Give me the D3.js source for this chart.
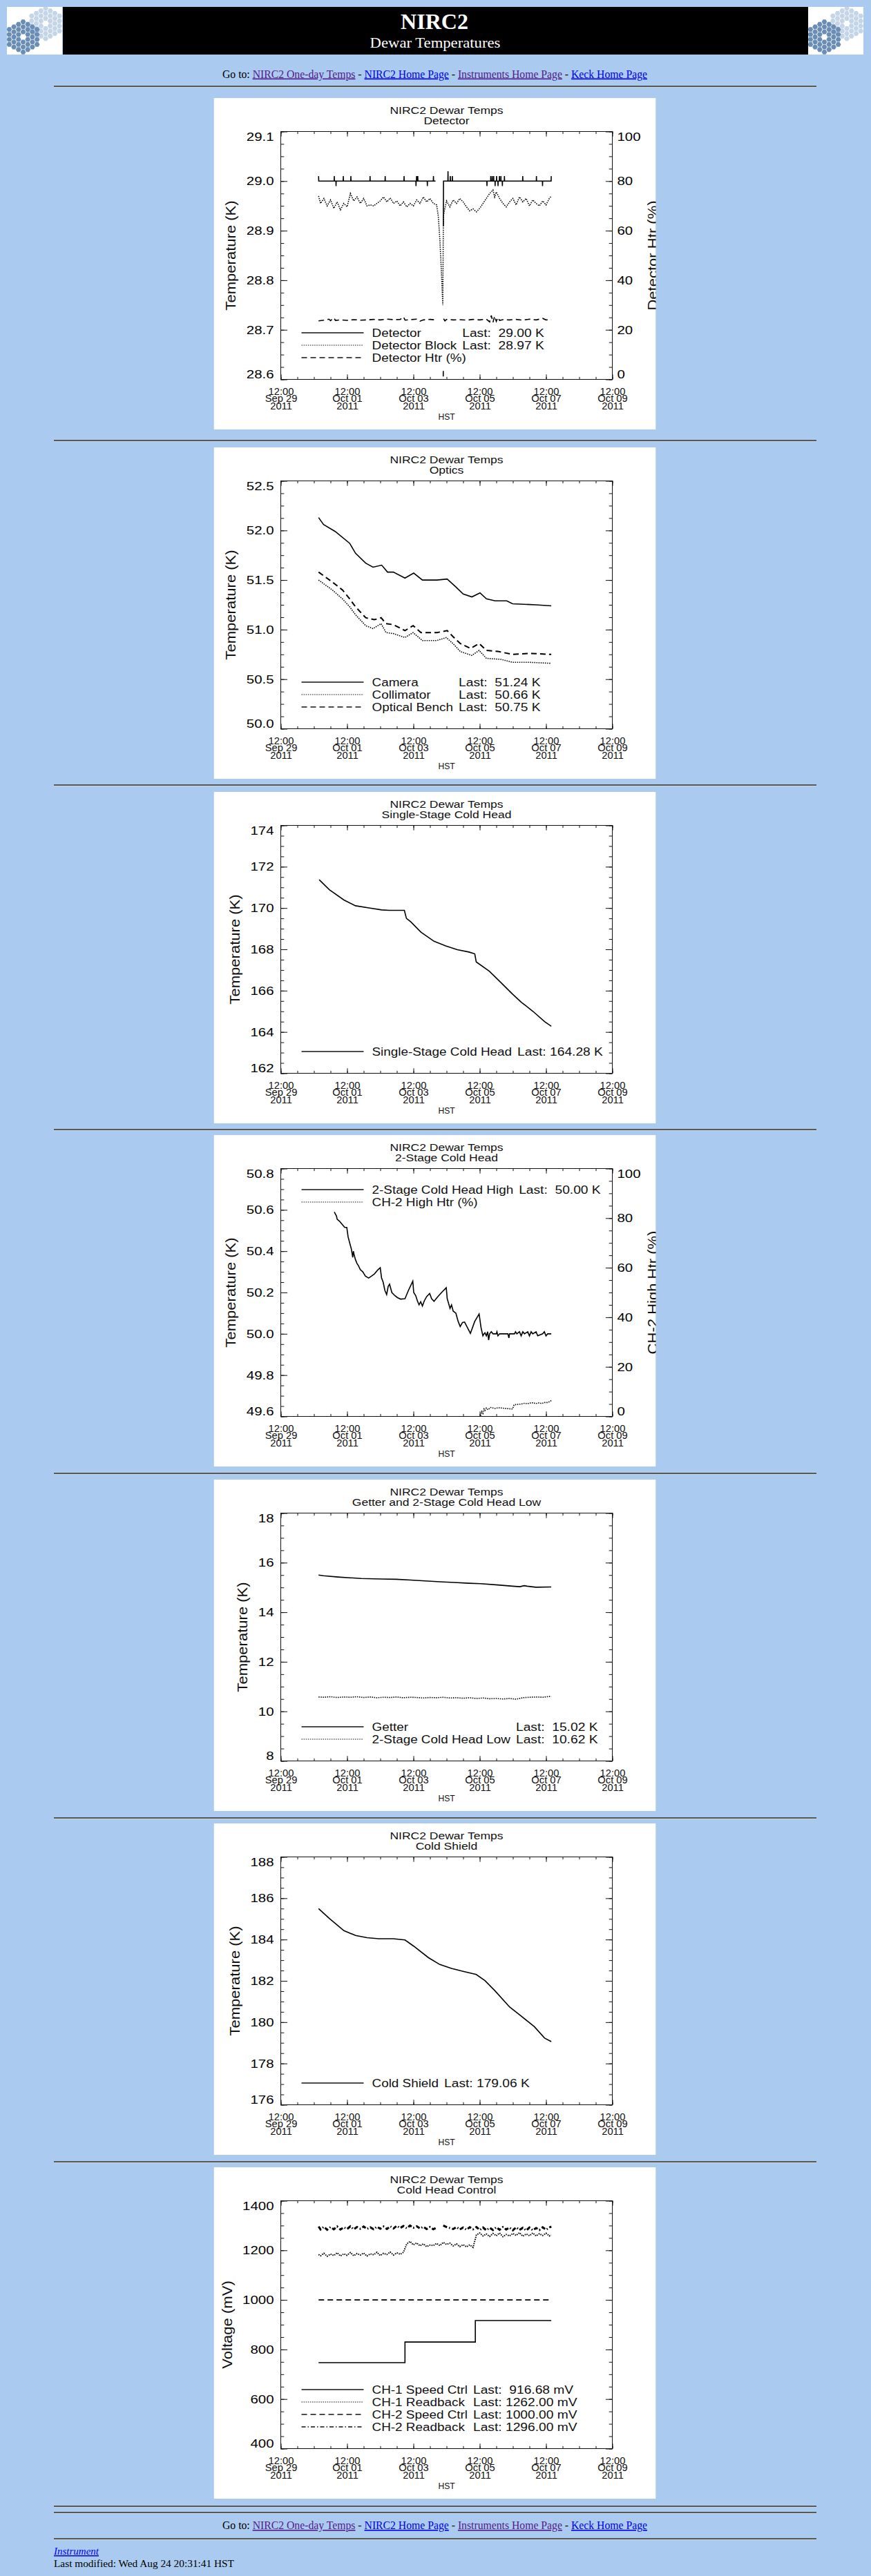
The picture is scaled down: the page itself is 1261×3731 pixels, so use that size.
<!DOCTYPE html>
<html>
<head>
<meta charset="utf-8">
<title>NIRC2 Dewar Temperatures</title>
<script src="https://cdn.jsdelivr.net/npm/d3@7"></script>
<style>
body { margin: 0; background: #aacbef; overflow: hidden; }
svg text { white-space: pre; }
</style>
</head>
<body>
<script>
// time axis: days after 12:00 Sep 29 2011 (HST)
var T0 = Date.UTC(2011, 8, 29, 12);
function day(d) { return new Date(T0 + d * 864e5); }
var xMajorDays = [0, 2, 4, 6, 8, 10];

// ---------- Detector ----------
var detTicks = [28.6, 28.7, 28.8, 28.9, 29.0, 29.1];
var htrTicks = [0, 20, 40, 60, 80, 100];
var detector = [[1.14,29.01],[1.145,29.0],[1.61,29.0],[1.614,29.01],[1.618,29.0],[1.663,29.0],[1.667,28.99],[1.671,29.0],
  [1.882,29.0],[1.886,29.01],[1.89,29.0],[2.11,29.0],[2.114,29.01],[2.118,29.0],[2.689,29.0],[2.693,29.01],[2.697,29.0],
  [3.145,29.0],[3.149,29.01],[3.153,29.0],[3.715,29.0],[3.719,29.01],[3.723,29.0],[4.075,29.0],[4.079,28.99],[4.083,29.0],
  [4.092,29.0],[4.096,29.01],[4.1,29.0],[4.128,29.0],[4.132,29.01],[4.136,29.0],[4.417,29.0],[4.421,28.99],[4.425,29.0],
  [4.601,29.0],[4.605,29.01],[4.609,29.0],[4.667,29.0],[4.78,null],[4.904,28.91],[4.908,29.0],[5.04,29.0],[5.044,29.02],
  [5.048,29.0],[5.11,29.0],[5.114,29.01],[5.118,29.0],[5.171,29.0],[5.175,29.01],[5.179,29.0],[6.215,29.0],[6.219,28.99],
  [6.223,29.0],[6.329,29.0],[6.333,29.01],[6.337,29.0],[6.373,29.0],[6.377,29.01],[6.381,29.0],[6.417,29.0],[6.421,29.01],
  [6.425,29.0],[6.461,29.0],[6.465,28.99],[6.469,29.0],[6.505,29.0],[6.509,29.01],[6.513,29.0],[6.549,29.0],[6.553,28.99],
  [6.557,29.0],[6.592,29.0],[6.596,29.01],[6.6,29.0],[6.636,29.0],[6.64,29.01],[6.644,29.0],[6.68,29.0],[6.684,28.99],
  [6.688,29.0],[6.742,29.0],[6.746,29.01],[6.75,29.0],[7.294,29.0],[7.298,29.01],[7.302,29.0],[7.707,29.0],[7.711,29.01],
  [7.715,29.0],[7.891,29.0],[7.895,28.99],[7.899,29.0],[8.154,29.0],[8.158,29.01]];
var detBlock = [[1.14,28.97],[1.2,28.955],[1.3,28.965],[1.4,28.95],[1.5,28.962],[1.6,28.945],[1.7,28.958],[1.8,28.942],
  [1.9,28.955],[2.0,28.948],[2.1,28.975],[2.2,28.96],[2.3,28.968],[2.4,28.955],[2.5,28.965],[2.6,28.95],[2.7,28.952],
  [2.8,28.95],[2.9,28.955],[3.0,28.96],[3.1,28.968],[3.2,28.958],[3.3,28.966],[3.4,28.955],[3.5,28.96],[3.6,28.95],
  [3.7,28.958],[3.8,28.948],[3.9,28.955],[4.0,28.95],[4.1,28.962],[4.2,28.955],[4.3,28.968],[4.4,28.958],[4.5,28.965],
  [4.6,28.955],[4.7,28.952],[4.75,28.93],[4.8,28.88],[4.85,28.81],[4.886,28.75],[4.905,28.93],[4.95,28.945],[5.0,28.96],
  [5.1,28.948],[5.2,28.962],[5.3,28.955],[5.4,28.965],[5.5,28.958],[5.6,28.948],[5.7,28.94],[5.8,28.944],[5.9,28.938],
  [6.0,28.945],[6.1,28.955],[6.2,28.965],[6.3,28.975],[6.4,28.982],[6.45,28.968],[6.5,28.978],[6.6,28.965],[6.7,28.955],
  [6.8,28.948],[6.9,28.958],[7.0,28.965],[7.1,28.952],[7.2,28.968],[7.3,28.958],[7.4,28.965],[7.5,28.95],[7.6,28.962],
  [7.7,28.955],[7.8,28.95],[7.9,28.96],[8.0,28.952],[8.1,28.965],[8.158,28.97]];
var detHtr = [[1.14,23.6],[1.3,23.9],[1.45,24.3],[1.5,23.7],[1.6,24.8],[1.65,23.8],[1.8,24.0],[2.0,23.8],[2.2,24.1],
  [2.4,23.9],[2.6,24.0],[2.8,24.2],[3.0,24.0],[3.2,24.3],[3.4,24.1],[3.6,24.2],[3.7,25.2],[3.75,23.9],[3.9,24.1],
  [4.1,24.3],[4.2,23.5],[4.3,24.0],[4.5,24.2],[4.667,24.0],[4.78,null],[4.9,1.2],[4.902,4.5],[4.906,null],[4.91,24.5],
  [4.95,23.6],[5.0,24.2],[5.2,24.0],[5.4,24.1],[5.6,23.9],[5.8,24.2],[6.0,24.0],[6.2,24.3],[6.3,23.2],[6.35,25.8],
  [6.4,23.0],[6.45,25.5],[6.5,23.4],[6.55,25.0],[6.6,23.8],[6.7,24.1],[6.9,24.0],[7.1,24.2],[7.3,23.9],[7.5,24.3],
  [7.7,24.0],[7.9,24.6],[8.0,24.0],[8.158,24.1]];

// ---------- Optics ----------
var opticsTicks = [50.0, 50.5, 51.0, 51.5, 52.0, 52.5];
var camera = [[1.14,52.13],[1.289,52.06],[1.64,51.99],[2.079,51.87],[2.254,51.77],[2.561,51.67],[2.781,51.63],
  [3.044,51.65],[3.219,51.58],[3.395,51.58],[3.746,51.52],[4.009,51.57],[4.272,51.50],[4.711,51.50],[5.018,51.51],
  [5.281,51.43],[5.5,51.36],[5.763,51.33],[6.009,51.37],[6.202,51.31],[6.465,51.29],[6.816,51.29],[6.991,51.26],
  [7.693,51.25],[8.158,51.24]];
var collimator = [[1.14,51.50],[1.553,51.40],[1.86,51.31],[2.079,51.23],[2.254,51.15],[2.561,51.04],[2.781,51.01],
  [3.026,51.06],[3.175,50.97],[3.395,50.96],[3.746,50.92],[3.991,50.97],[4.272,50.89],[4.711,50.89],[4.991,50.92],
  [5.193,50.86],[5.412,50.78],[5.763,50.74],[5.982,50.79],[6.202,50.71],[6.64,50.70],[6.991,50.67],[7.518,50.67],
  [8.158,50.66]];
var bench = [[1.14,51.58],[1.553,51.48],[1.86,51.40],[2.079,51.31],[2.254,51.23],[2.561,51.12],[2.825,51.10],
  [3.026,51.12],[3.175,51.06],[3.395,51.05],[3.746,50.99],[3.991,51.04],[4.228,50.97],[4.711,50.97],[5.018,50.99],
  [5.193,50.93],[5.412,50.86],[5.719,50.81],[5.982,50.86],[6.202,50.79],[6.553,50.78],[6.991,50.75],[7.518,50.76],
  [8.158,50.75]];

// ---------- Single-Stage Cold Head ----------
var ssTicks = [162, 164, 166, 168, 170, 172, 174];
var singleStage = [[1.158,171.37],[1.465,170.89],[1.904,170.39],[2.254,170.11],[2.693,170.0],[3.044,169.91],
  [3.263,169.89],[3.728,169.89],[3.789,169.5],[3.921,169.33],[4.228,168.83],[4.623,168.39],[4.974,168.17],
  [5.325,167.98],[5.675,167.87],[5.851,167.78],[5.895,167.39],[6.289,166.94],[6.64,166.39],[6.991,165.83],
  [7.254,165.44],[7.605,165.0],[7.956,164.5],[8.158,164.28]];

// ---------- 2-Stage Cold Head ----------
var tsTicks = [49.6, 49.8, 50.0, 50.2, 50.4, 50.6, 50.8];
var chHigh = [[1.614,50.59],[1.68,50.57],[1.7,50.555],[1.772,50.545],[1.85,50.53],[1.93,50.515],[1.991,50.515],
  [2.03,50.47],[2.079,50.44],[2.13,50.41],[2.17,50.37],[2.19,50.40],[2.211,50.384],[2.25,50.36],[2.3,50.34],
  [2.342,50.33],[2.4,50.31],[2.474,50.30],[2.55,50.28],[2.649,50.27],[2.74,50.28],[2.825,50.29],[2.93,50.31],
  [3.0,50.32],[3.04,50.27],[3.088,50.25],[3.14,50.21],[3.193,50.19],[3.24,50.23],[3.281,50.24],[3.35,50.2],
  [3.439,50.185],[3.52,50.175],[3.614,50.168],[3.746,50.17],[3.85,50.21],[3.982,50.255],[4.01,50.2],[4.07,50.185],
  [4.12,50.16],[4.17,50.14],[4.22,50.155],[4.272,50.135],[4.33,50.16],[4.4,50.18],[4.491,50.195],[4.55,50.17],
  [4.623,50.157],[4.711,50.175],[4.85,50.2],[4.991,50.223],[5.02,50.17],[5.105,50.123],[5.15,50.14],[5.2,50.11],
  [5.281,50.1],[5.35,50.06],[5.412,50.035],[5.48,50.055],[5.544,50.057],[5.63,50.03],[5.719,50.002],[5.85,50.06],
  [5.982,50.096],[6.04,50.03],[6.096,49.99],[6.13,50.0],[6.158,50.005],[6.2,49.99],[6.24,50.01],[6.27,49.97],
  [6.3,50.0],[6.35,50.01],[6.4,50.0],[6.5,50.0],[6.52,50.01],[6.55,49.99],[6.6,50.0],[6.85,50.0],[6.88,49.98],
  [6.9,50.0],[7.05,50.0],[7.08,50.01],[7.12,50.0],[7.2,50.01],[7.25,49.99],[7.3,50.01],[7.35,50.0],[7.45,50.01],
  [7.5,49.99],[7.55,50.01],[7.6,50.0],[7.7,50.01],[7.75,49.99],[7.9,50.0],[7.95,50.01],[8.0,49.99],[8.05,50.0],
  [8.158,50.0]];
var ch2Htr = [[6.026,0.3],[6.06,2.0],[6.096,1.2],[6.13,3.0],[6.158,2.4],[6.2,3.4],[6.246,2.7],[6.333,3.6],[6.4,3.4],
  [6.465,3.2],[6.55,3.5],[6.64,3.4],[6.8,3.2],[6.991,3.0],[7.035,4.6],[7.1,4.8],[7.254,5.0],[7.35,5.3],[7.43,5.1],
  [7.5,5.4],[7.605,5.5],[7.7,5.2],[7.8,5.5],[7.868,5.2],[7.95,5.6],[8.044,5.6],[8.1,5.9],[8.158,6.4]];

// ---------- Getter and 2-Stage Cold Head Low ----------
var getterTicks = [8, 10, 12, 14, 16, 18];
var getter = [[1.14,15.5],[1.289,15.47],[1.728,15.42],[2.43,15.36],[3.044,15.34],[3.482,15.33],[3.921,15.30],
  [4.272,15.27],[4.798,15.23],[5.237,15.20],[5.675,15.17],[6.026,15.15],[6.553,15.10],[6.991,15.05],[7.211,15.03],
  [7.342,15.07],[7.43,15.05],[7.693,15.01],[8.158,15.02]];
var chLow = [[1.14,10.58],[1.3,10.57],[1.5,10.59],[1.7,10.56],[1.9,10.58],[2.1,10.57],[2.3,10.59],[2.5,10.56],
  [2.7,10.58],[2.9,10.55],[3.1,10.57],[3.3,10.56],[3.5,10.58],[3.7,10.55],[3.9,10.57],[4.1,10.56],[4.3,10.54],
  [4.5,10.56],[4.7,10.55],[4.9,10.57],[5.1,10.54],[5.3,10.55],[5.5,10.53],[5.7,10.55],[5.9,10.52],[6.1,10.54],
  [6.3,10.51],[6.5,10.52],[6.7,10.5],[6.9,10.52],[7.1,10.49],[7.3,10.55],[7.5,10.57],[7.7,10.58],[7.9,10.57],
  [8.1,10.6],[8.158,10.6]];

// ---------- Cold Shield ----------
var shieldTicks = [176, 178, 180, 182, 184, 186, 188];
var coldShield = [[1.14,185.5],[1.465,185.02],[1.904,184.43],[2.254,184.2],[2.605,184.09],[2.956,184.04],
  [3.395,184.04],[3.746,183.98],[4.009,183.68],[4.456,183.12],[4.798,182.79],[5.149,182.6],[5.5,182.46],
  [5.895,182.31],[6.158,182.01],[6.465,181.51],[6.904,180.73],[7.254,180.29],[7.649,179.78],[7.956,179.23],
  [8.158,179.06]];

// ---------- Cold Head Control ----------
var voltTicks = [400, 600, 800, 1000, 1200, 1400];
var ctrlTime = [1.14,1.2,1.3,1.4,1.5,1.6,1.7,1.8,1.9,2.0,2.1,2.2,2.3,2.4,2.5,2.6,2.7,2.8,2.9,3.0,3.1,3.2,3.3,3.4,3.5,
  3.6,3.7,3.8,3.9,4.0,4.1,4.2,4.3,4.4,4.5,4.6,4.7,4.8,4.9,5.0,5.1,5.2,5.3,5.4,5.5,5.6,5.7,5.8,5.9,6.0,6.1,6.2,6.3,
  6.4,6.5,6.6,6.7,6.8,6.9,7.0,7.1,7.2,7.3,7.4,7.5,7.6,7.7,7.8,7.9,8.0,8.1,8.16];
var ch1Readback = [1183,1178,1188,1176,1185,1179,1190,1177,1186,1180,1191,1178,1187,1181,1189,1177,1186,1182,1192,
  1179,1188,1183,1193,1181,1190,1184,1192,1226,1236,1222,1230,1218,1226,1215,1221,1219,1228,1219,1232,1224,1229,
  1218,1226,1215,1223,1214,1222,1212,1262,1270,1258,1266,1256,1268,1259,1270,1255,1264,1258,1268,1260,1271,1257,
  1266,1259,1270,1258,1267,1260,1269,1258,1262];
var ch2Readback = [1296,1284,1295,1283,1294,1285,1296,1284,1293,1286,1297,1285,1294,1287,1296,1286,1293,1285,1295,
  1287,1296,1286,1297,1288,1299,1290,1298,1289,1300,1291,1297,1288,1295,1286,1294,1285,1292,null,1300,1294,1290,
  1286,1294,1284,1292,1283,1293,1285,1294,1282,1292,1281,1291,1282,1293,1283,1294,1284,1292,1281,1293,1282,1291,
  1280,1292,1281,1290,1282,1293,1283,1292,1296];
var ch1Speed = [[1.14,747],[3.746,830],[5.868,916.68],[8.158,916.68]];
var ch2Speed = [[1.14,1000],[8.158,1000]];

// ---------- page layout ----------
var W = 1261, H = 3731;
var SANS = "'Liberation Sans', Arial, sans-serif";
var SERIF = "'Liberation Serif', 'Times New Roman', serif";
var PX = 309.5, PW = 640, PH = 480;
var M = { l: 97, t: 48.5 }, IW = 480, IH = 359;
var panelTops = [142, 648, 1147, 1644, 2143, 2641, 3139];
var hrYs = [124, 637, 1136, 1635, 2133, 2632, 3130, 3629, 3638, 3676];
var DASH = { solid: null, dotted: "1.5,1.6", dashed: "8,5", dashdot: "6,3,1.5,3" };

var svg = d3.select("body").append("svg")
  .attr("width", W).attr("height", H);

// stretch text horizontally to imitate the wide plot font
function fit(sel, k) {
  sel.each(function () {
    var n = this.getComputedTextLength();
    if (n > 0) d3.select(this).attr("textLength", n * k).attr("lengthAdjust", "spacingAndGlyphs");
  });
}

// ---- header banner ----
function logo(x0) {
  var lg = svg.append("g").attr("transform", "translate(" + x0 + ",10)");
  var cid = "logo" + x0;
  lg.append("clipPath").attr("id", cid).append("rect").attr("width", 80).attr("height", 69);
  var c = lg.append("g").attr("clip-path", "url(#" + cid + ")");
  c.append("rect").attr("width", 80).attr("height", 69).attr("fill", "#fff");
  var cells = [];
  for (var q = -3; q <= 3; q++) for (var r = -3; r <= 3; r++) {
    var k = Math.max(Math.abs(q), Math.abs(r), Math.abs(q + r));
    if (k >= 1 && k <= 3) cells.push([q, r]);
  }
  var hex = d3.range(6).map(function (i) { var a = Math.PI / 3 * i; return [3.9 * Math.cos(a), 3.9 * Math.sin(a)]; });
  [[56, 24, "#c4d5e7"], [23.5, 43.5, "#6a8db5"]].forEach(function (cl) {
    c.append("g").attr("transform", "translate(" + cl[0] + "," + cl[1] + ")")
      .selectAll("path").data(cells).enter().append("path")
      .attr("transform", function (d) { return "translate(" + (6.7 * d[0]) + "," + (7.3 * (d[1] + d[0] / 2)) + ")"; })
      .attr("d", "M" + hex.join("L") + "Z")
      .attr("fill", cl[2]);
  });
}
logo(10);
svg.append("rect").attr("x", 91).attr("y", 10).attr("width", 1079).attr("height", 69).attr("fill", "#000");
logo(1170);
svg.append("text").attr("x", 629).attr("y", 42).attr("text-anchor", "middle")
  .attr("font-family", SERIF).attr("font-weight", "bold").attr("font-size", 32).attr("fill", "#fff")
  .text("NIRC2");
svg.append("text").attr("x", 630).attr("y", 69).attr("text-anchor", "middle")
  .attr("font-family", SERIF).attr("font-size", 21).attr("fill", "#fff")
  .text("Dewar Temperatures").call(fit, 1.08);

// ---- "Go to" link lines ----
var gotoParts = [["Go to: ", "#000"], ["NIRC2 One-day Temps", "#551a8b"], [" - ", "#000"], ["NIRC2 Home Page", "#0000ee"],
  [" - ", "#000"], ["Instruments Home Page", "#551a8b"], [" - ", "#000"], ["Keck Home Page", "#0000ee"]];
function gotoLine(yb) {
  var t = svg.append("text").attr("x", 322).attr("y", yb)
    .attr("font-family", SERIF).attr("font-size", 16);
  t.selectAll("tspan").data(gotoParts).enter().append("tspan")
    .attr("fill", function (d) { return d[1]; })
    .style("text-decoration", function (d) { return d[1] === "#000" ? null : "underline"; })
    .text(function (d) { return d[0]; });
  t.attr("textLength", 615).attr("lengthAdjust", "spacingAndGlyphs");
}
gotoLine(112.5);
gotoLine(3663);

// ---- horizontal rules ----
hrYs.forEach(function (y) {
  svg.append("rect").attr("x", 78).attr("y", y).attr("width", 1104).attr("height", 2).attr("fill", "#585858");
  svg.append("rect").attr("x", 78).attr("y", y + 2).attr("width", 1104).attr("height", 1).attr("fill", "#c9d6e3");
});

// ---- footer ----
svg.append("text").attr("x", 78).attr("y", 3700).attr("font-family", SERIF).attr("font-style", "italic")
  .attr("font-size", 15).attr("fill", "#0000ee").style("text-decoration", "underline")
  .text("Instrument").call(fit, 1.0);
svg.append("text").attr("x", 78).attr("y", 3718).attr("font-family", SERIF).attr("font-size", 14.5)
  .attr("fill", "#000").text("Last modified: Wed Aug 24 20:31:41 HST")
  .attr("textLength", 261).attr("lengthAdjust", "spacingAndGlyphs");

// ---- one IDL-style plot ----
function drawChart(top, c) {
  var P = svg.append("g").attr("transform", "translate(" + PX + "," + top + ")");
  var cid = "clip" + top;
  P.append("clipPath").attr("id", cid).append("rect").attr("width", PW).attr("height", PH);
  var root = P.append("g").attr("clip-path", "url(#" + cid + ")");
  root.append("rect").attr("width", PW).attr("height", PH).attr("fill", "#fff");

  root.append("text").attr("x", M.l + IW / 2).attr("y", 23).attr("text-anchor", "middle")
    .attr("font-family", SANS).attr("font-size", 14).attr("fill", "#111")
    .text("NIRC2 Dewar Temps").call(fit, 1.25);
  root.append("text").attr("x", M.l + IW / 2).attr("y", 38).attr("text-anchor", "middle")
    .attr("font-family", SANS).attr("font-size", 14).attr("fill", "#111")
    .text(c.subtitle).call(fit, 1.25);

  var g = root.append("g").attr("transform", "translate(" + M.l + "," + M.t + ")");
  var x = d3.scaleUtc().domain([day(0), day(10)]).range([0, IW]);
  var y = d3.scaleLinear().domain(c.yDomain).range([IH, 0]);
  var y2 = c.y2 ? d3.scaleLinear().domain(c.y2.domain).range([IH, 0]) : null;

  var xMajor = xMajorDays.map(day);
  var xMinor = d3.range(0, 10.001, 0.5).map(day);
  function styleAxis(a) {
    a.select(".domain").remove();
    a.attr("font-family", SANS).attr("fill", "#111");
    a.selectAll("line").attr("stroke", "#111");
  }
  // x ticks on bottom and top, pointing inward
  g.append("g").attr("transform", "translate(0," + IH + ")")
    .call(d3.axisBottom(x).tickValues(xMinor).tickSize(-3.6).tickFormat("")).call(styleAxis);
  var bx = g.append("g").attr("transform", "translate(0," + IH + ")")
    .call(d3.axisBottom(x).tickValues(xMajor).tickSize(-7.2).tickFormat(d3.utcFormat("%H:%M"))).call(styleAxis);
  g.append("g").call(d3.axisTop(x).tickValues(xMinor).tickSize(-3.6).tickFormat("")).call(styleAxis);
  g.append("g").call(d3.axisTop(x).tickValues(xMajor).tickSize(-7.2).tickFormat("")).call(styleAxis);
  var fmts = [d3.utcFormat("%H:%M"), d3.utcFormat("%b %d"), d3.utcFormat("%Y")];
  bx.selectAll(".tick text").each(function (d) {
    var t = d3.select(this).text(null).attr("y", null).attr("dy", null)
      .attr("font-size", 14).attr("fill", "#111");
    fmts.forEach(function (f, i) {
      t.append("tspan").attr("x", 0).attr("y", 22.5 + i * 10.3).text(f(d)).call(fit, 1.05);
    });
  });
  g.append("text").attr("x", IW / 2).attr("y", 466 - M.t).attr("text-anchor", "middle")
    .attr("font-family", SANS).attr("font-size", 12.5).attr("fill", "#111").text("HST").call(fit, 0.97);

  // left y axis
  var lo = c.yDomain[0], hi = c.yDomain[1];
  g.append("g").call(d3.axisLeft(y).tickValues(d3.range(lo, hi + 1e-9, c.yMinor)).tickSize(-4.8).tickFormat(""))
    .call(styleAxis);
  var ly = g.append("g").call(d3.axisLeft(y).tickValues(c.yTicks).tickSize(-9.6).tickPadding(10)
    .tickFormat(d3.format(c.yFmt))).call(styleAxis);
  function endNudge(ax) {
    ax.selectAll(".tick text").attr("font-size", 17)
      .attr("dy", function (d, i, n) { return i === 0 ? "-0.09em" : i === n.length - 1 ? "0.76em" : "0.32em"; })
      .call(fit, 1.2);
  }
  endNudge(ly);

  // right axis: own scale or mirrored ticks
  if (y2) {
    g.append("g").attr("transform", "translate(" + IW + ",0)")
      .call(d3.axisRight(y2).tickValues(d3.range(0, 100.001, 5)).tickSize(-4.8).tickFormat("")).call(styleAxis);
    var ry = g.append("g").attr("transform", "translate(" + IW + ",0)")
      .call(d3.axisRight(y2).tickValues(c.y2.ticks).tickSize(-9.6).tickPadding(7).tickFormat(d3.format("d")))
      .call(styleAxis);
    endNudge(ry);
    g.append("text").attr("transform", "translate(" + (642 - M.l) + "," + (IH / 2) + ") rotate(-90)")
      .attr("text-anchor", "middle").attr("font-family", SANS).attr("font-size", 21).attr("fill", "#111")
      .text(c.y2.title).call(fit, 1.05);
  } else {
    g.append("g").attr("transform", "translate(" + IW + ",0)")
      .call(d3.axisRight(y).tickValues(d3.range(lo, hi + 1e-9, c.yMinor)).tickSize(-4.8).tickFormat(""))
      .call(styleAxis);
    g.append("g").attr("transform", "translate(" + IW + ",0)")
      .call(d3.axisRight(y).tickValues(c.yTicks).tickSize(-9.6).tickFormat("")).call(styleAxis);
  }

  // y title, left of the widest tick label
  var lx = ly.node().getBBox().x;
  g.append("text").attr("transform", "translate(" + (lx - 23 + 7.5) + "," + (IH / 2) + ") rotate(-90)")
    .attr("text-anchor", "middle").attr("font-family", SANS).attr("font-size", 21).attr("fill", "#111")
    .text(c.yTitle).call(fit, 1.05);

  // frame
  g.append("rect").attr("width", IW).attr("height", IH).attr("fill", "none").attr("stroke", "#111");

  // series
  c.series.forEach(function (s) {
    var ys = s.right ? y2 : y;
    var line = d3.line().defined(function (d) { return d[1] != null; })
      .x(function (d) { return x(day(d[0])); }).y(function (d) { return ys(d[1]); })
      .curve(s.step ? d3.curveStepAfter : d3.curveLinear);
    g.append("path").datum(s.data).attr("d", line).attr("fill", "none")
      .attr("stroke", "#000").attr("stroke-width", s.width || 1.6)
      .attr("stroke-dasharray", DASH[s.style]);
  });

  // legend: sample line, name, then "Last:" value aligned after the longest name
  var n = c.series.length;
  var rows = g.append("g");
  var rowY = function (i) { return (c.legendTop ? 79 + 18 * i : 376 - 18 * (n - 1 - i)) - M.t; };
  var maxW = 0;
  c.series.forEach(function (s, i) {
    rows.append("line").attr("x1", 127 - M.l).attr("x2", 217 - M.l).attr("y1", rowY(i)).attr("y2", rowY(i))
      .attr("stroke", "#111").attr("stroke-width", s.style === "dotted" ? 1.2 : 1.6)
      .attr("stroke-dasharray", DASH[s.style]);
    var t = rows.append("text").attr("x", 229 - M.l).attr("y", rowY(i) + 5.8)
      .attr("font-family", SANS).attr("font-size", 16).attr("fill", "#111").text(s.name).call(fit, 1.18);
    if (s.last) maxW = Math.max(maxW, +t.attr("textLength"));
  });
  c.series.forEach(function (s, i) {
    if (!s.last) return;
    rows.append("text").attr("x", 229 - M.l + maxW + 8).attr("y", rowY(i) + 5.8)
      .attr("font-family", SANS).attr("font-size", 16).attr("fill", "#111").text(s.last).call(fit, 1.2);
  });
}

var pairs = function (vals) { return ctrlTime.map(function (t, i) { return [t, vals[i]]; }); };

var charts = [
  { subtitle: "Detector", yDomain: [28.6, 29.1], yTicks: detTicks, yMinor: 0.025, yFmt: ".1f", yTitle: "Temperature (K)",
    y2: { domain: [0, 100], ticks: htrTicks, title: "Detector Htr (%)" },
    series: [
      { name: "Detector", last: "Last:  29.00 K", style: "solid", data: detector },
      { name: "Detector Block", last: "Last:  28.97 K", style: "dotted", data: detBlock },
      { name: "Detector Htr (%)", style: "dashed", right: true, data: detHtr }] },
  { subtitle: "Optics", yDomain: [50.0, 52.5], yTicks: opticsTicks, yMinor: 0.125, yFmt: ".1f", yTitle: "Temperature (K)",
    series: [
      { name: "Camera", last: "Last:  51.24 K", style: "solid", data: camera },
      { name: "Collimator", last: "Last:  50.66 K", style: "dotted", data: collimator },
      { name: "Optical Bench", last: "Last:  50.75 K", style: "dashed", width: 2, data: bench }] },
  { subtitle: "Single-Stage Cold Head", yDomain: [162, 174], yTicks: ssTicks, yMinor: 0.5, yFmt: "d", yTitle: "Temperature (K)",
    series: [
      { name: "Single-Stage Cold Head", last: "Last: 164.28 K", style: "solid", data: singleStage }] },
  { subtitle: "2-Stage Cold Head", yDomain: [49.6, 50.8], yTicks: tsTicks, yMinor: 0.05, yFmt: ".1f", yTitle: "Temperature (K)",
    y2: { domain: [0, 100], ticks: htrTicks, title: "CH-2 High Htr (%)" }, legendTop: true,
    series: [
      { name: "2-Stage Cold Head High", last: "Last:  50.00 K", style: "solid", data: chHigh },
      { name: "CH-2 High Htr (%)", style: "dotted", right: true, data: ch2Htr }] },
  { subtitle: "Getter and 2-Stage Cold Head Low", yDomain: [8, 18], yTicks: getterTicks, yMinor: 0.5, yFmt: "d",
    yTitle: "Temperature (K)",
    series: [
      { name: "Getter", last: "Last:  15.02 K", style: "solid", data: getter },
      { name: "2-Stage Cold Head Low", last: "Last:  10.62 K", style: "dotted", data: chLow }] },
  { subtitle: "Cold Shield", yDomain: [176, 188], yTicks: shieldTicks, yMinor: 0.5, yFmt: "d", yTitle: "Temperature (K)",
    series: [
      { name: "Cold Shield", last: "Last: 179.06 K", style: "solid", data: coldShield }] },
  { subtitle: "Cold Head Control", yDomain: [400, 1400], yTicks: voltTicks, yMinor: 50, yFmt: "d", yTitle: "Voltage (mV)",
    series: [
      { name: "CH-1 Speed Ctrl", last: "Last:  916.68 mV", style: "solid", step: true, data: ch1Speed },
      { name: "CH-1 Readback", last: "Last: 1262.00 mV", style: "dotted", width: 2, data: pairs(ch1Readback) },
      { name: "CH-2 Speed Ctrl", last: "Last: 1000.00 mV", style: "dashed", data: ch2Speed },
      { name: "CH-2 Readback", last: "Last: 1296.00 mV", style: "dashdot", width: 3, data: pairs(ch2Readback) }] }
];

charts.forEach(function (c, i) { drawChart(panelTops[i], c); });
</script>
</body>
</html>
